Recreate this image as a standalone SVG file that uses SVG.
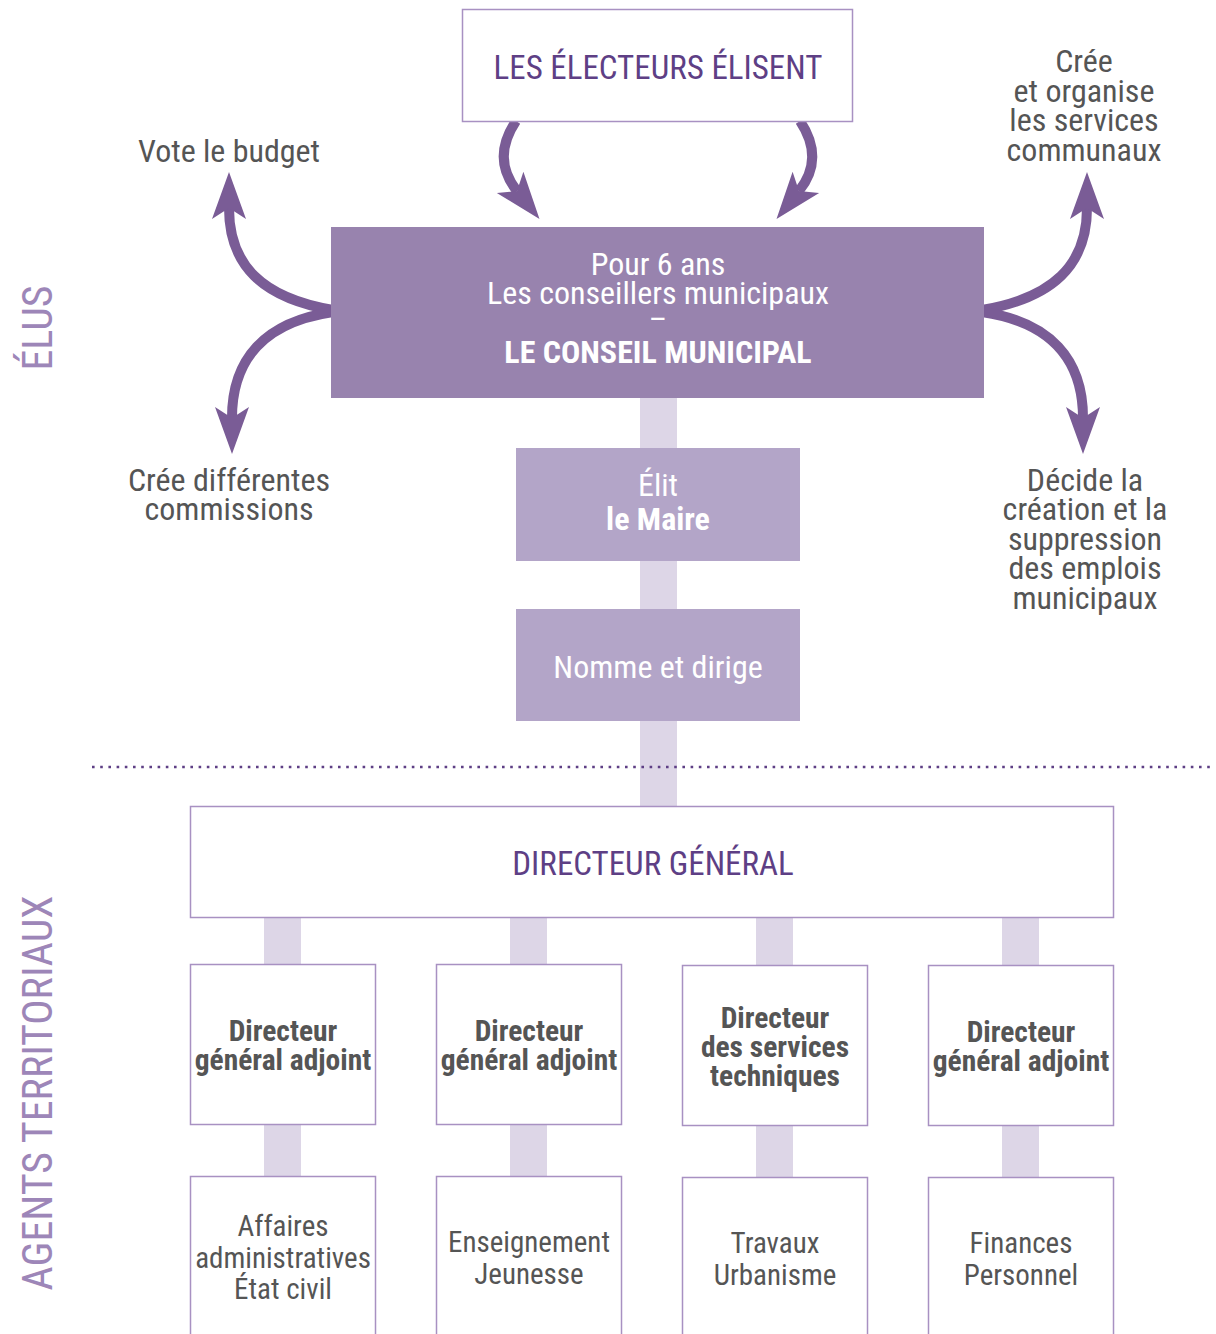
<svg xmlns="http://www.w3.org/2000/svg" width="1216" height="1334" viewBox="0 0 1216 1334">
<style>
text{font-family:"Roboto Condensed","DejaVu Sans Condensed",Roboto,sans-serif;text-anchor:middle}
.hd{fill:#5e3f85;font-size:33px}
.wt{fill:#ffffff;font-size:32px}
.gy{fill:#555555;font-size:32px}
.gs{fill:#555555;font-size:29px}
.gb{fill:#555555;font-size:29.5px;font-weight:bold}
.side{fill:#9d86b8;font-size:42px}
.box{fill:#ffffff;stroke:#a891c2;stroke-width:1.5}
.lt{fill:#b3a5c8}
.bar{fill:#ddd6e7}
.arr{fill:none;stroke:#7a5c96;stroke-width:10}
</style>
<defs>
<marker id="ah" markerUnits="userSpaceOnUse" viewBox="-15 -20 55 40" markerWidth="55" markerHeight="40" refX="0" refY="0" orient="auto">
<path d="M36,0 L-11,-17 L0,0 L-11,17 Z" fill="#7a5c96"/>
</marker>
</defs>
<g id="connectors">
<rect class="bar" x="640" y="395" width="37" height="412"/>
<rect class="bar" x="264" y="915" width="37" height="52"/>
<rect class="bar" x="510" y="915" width="37" height="52"/>
<rect class="bar" x="756" y="915" width="37" height="52"/>
<rect class="bar" x="1002" y="915" width="37" height="52"/>
<rect class="bar" x="264" y="1123" width="37" height="55"/>
<rect class="bar" x="510" y="1123" width="37" height="55"/>
<rect class="bar" x="756" y="1123" width="37" height="55"/>
<rect class="bar" x="1002" y="1123" width="37" height="55"/>
<path class="arr" d="M516,121 C498,148 501,171 517,191" marker-end="url(#ah)"/>
<path class="arr" d="M800,121 C818,148 815,171 799,191" marker-end="url(#ah)"/>
<path class="arr" d="M333,310 C262,298 229,265 229,208" marker-end="url(#ah)"/>
<path class="arr" d="M333,312 C264,322 232,360 232,418" marker-end="url(#ah)"/>
<path class="arr" d="M982,310 C1053,298 1087,265 1087,208" marker-end="url(#ah)"/>
<path class="arr" d="M982,312 C1051,322 1083,360 1083,418" marker-end="url(#ah)"/>
<line x1="92" y1="767" x2="1214" y2="767" stroke="#5e3f85" stroke-width="2.6" stroke-dasharray="2.6 5.6"/>
</g>
<g id="label-elus"><text class="side" transform="translate(52,328) rotate(-90)">ÉLUS</text></g>
<g id="label-agents"><text class="side" transform="translate(52,1093) rotate(-90)">AGENTS TERRITORIAUX</text></g>
<g id="electeurs">
<rect class="box" x="462.5" y="9.5" width="390" height="112"/>
<text class="hd" x="658" y="79">LES ÉLECTEURS ÉLISENT</text>
</g>
<g id="conseil">
<rect x="331" y="227" width="653" height="171" fill="#9883ae"/>
<text class="wt" x="658" y="275">Pour 6 ans</text>
<text class="wt" x="658" y="304">Les conseillers municipaux</text>
<text class="wt" x="658" y="330">–</text>
<text class="wt" x="658" y="363" font-weight="bold">LE CONSEIL MUNICIPAL</text>
</g>
<g id="vote-budget"><text class="gy" x="229" y="162">Vote le budget</text></g>
<g id="commissions">
<text class="gy" x="229" y="491">Crée différentes</text>
<text class="gy" x="229" y="520">commissions</text>
</g>
<g id="cree-services">
<text class="gy" x="1084" y="72">Crée</text>
<text class="gy" x="1084" y="102">et organise</text>
<text class="gy" x="1084" y="131">les services</text>
<text class="gy" x="1084" y="161">communaux</text>
</g>
<g id="emplois">
<text class="gy" x="1085" y="491">Décide la</text>
<text class="gy" x="1085" y="520">création et la</text>
<text class="gy" x="1085" y="550">suppression</text>
<text class="gy" x="1085" y="579">des emplois</text>
<text class="gy" x="1085" y="609">municipaux</text>
</g>
<g id="maire">
<rect class="lt" x="516" y="448" width="284" height="113"/>
<text class="wt" x="658" y="496">Élit</text>
<text class="wt" x="658" y="530" font-weight="bold" font-size="33">le Maire</text>
</g>
<g id="nomme">
<rect class="lt" x="516" y="609" width="284" height="112"/>
<text class="wt" x="658" y="678">Nomme et dirige</text>
</g>
<g id="dg">
<rect class="box" x="190.5" y="806.5" width="923" height="111"/>
<text class="hd" x="653" y="875">DIRECTEUR GÉNÉRAL</text>
</g>
<g id="dga1">
<rect class="box" x="190.5" y="964.5" width="185" height="160"/>
<text class="gb" x="283" y="1041">Directeur</text>
<text class="gb" x="283" y="1070">général adjoint</text>
</g>
<g id="dga2">
<rect class="box" x="436.5" y="964.5" width="185" height="160"/>
<text class="gb" x="529" y="1041">Directeur</text>
<text class="gb" x="529" y="1070">général adjoint</text>
</g>
<g id="dst">
<rect class="box" x="682.5" y="965.5" width="185" height="160"/>
<text class="gb" x="775" y="1028">Directeur</text>
<text class="gb" x="775" y="1057">des services</text>
<text class="gb" x="775" y="1086">techniques</text>
</g>
<g id="dga3">
<rect class="box" x="928.5" y="965.5" width="185" height="160"/>
<text class="gb" x="1021" y="1042">Directeur</text>
<text class="gb" x="1021" y="1071">général adjoint</text>
</g>
<g id="svc1">
<rect class="box" x="190.5" y="1176.5" width="185" height="170"/>
<text class="gs" x="283" y="1236">Affaires</text>
<text class="gs" x="283" y="1268">administratives</text>
<text class="gs" x="283" y="1299">État civil</text>
</g>
<g id="svc2">
<rect class="box" x="436.5" y="1176.5" width="185" height="170"/>
<text class="gs" x="529" y="1252">Enseignement</text>
<text class="gs" x="529" y="1284">Jeunesse</text>
</g>
<g id="svc3">
<rect class="box" x="682.5" y="1177.5" width="185" height="170"/>
<text class="gs" x="775" y="1253">Travaux</text>
<text class="gs" x="775" y="1285">Urbanisme</text>
</g>
<g id="svc4">
<rect class="box" x="928.5" y="1177.5" width="185" height="170"/>
<text class="gs" x="1021" y="1253">Finances</text>
<text class="gs" x="1021" y="1285">Personnel</text>
</g>
</svg>
